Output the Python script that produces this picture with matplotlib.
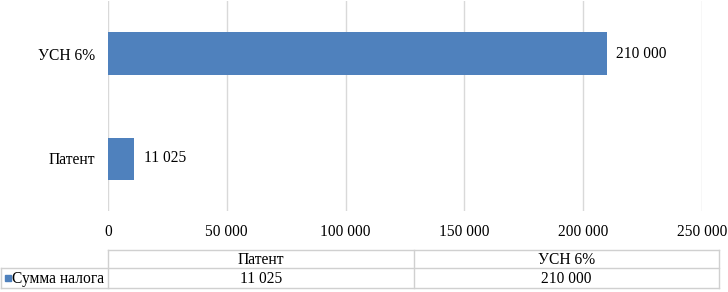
import matplotlib
matplotlib.use("Agg")
import matplotlib.pyplot as plt
from matplotlib.lines import Line2D
from matplotlib.patches import Rectangle
from matplotlib import font_manager

categories = ["Патент", "УСН 6%"]
values = [11025, 210000]
series_name = "Сумма налога"
xticks = [0, 50000, 100000, 150000, 200000, 250000]

def fmt(v):
    return f"{v:,}".replace(",", " ")

serif_names = [f.name for f in font_manager.fontManager.ttflist if 'Serif' in f.name]
fam = 'Liberation Serif' if 'Liberation Serif' in serif_names else ('DejaVu Serif')
plt.rcParams['font.family'] = 'serif'
plt.rcParams['font.serif'] = [fam, 'DejaVu Serif']
FS = 11.2

W, H = 728, 292
fig = plt.figure(figsize=(W/100, H/100), dpi=100)
color = "#4f81bd"
grid = "#d9d9d9"

x0, x1 = 108, 702
y_top, y_bot = 1, 211
ax = fig.add_axes([x0/W, 1 - y_bot/H, (x1-x0)/W, (y_bot-y_top)/H])
ypos = list(range(len(categories)))
ax.barh(ypos, values, height=0.4, color=color, zorder=3)
ax.set_xlim(0, 250000)
ax.set_ylim(-0.5, 1.5)
ax.set_yticks(ypos)
ax.set_yticklabels(categories, fontsize=FS)
ax.set_xticks(xticks)
ax.set_xticklabels([fmt(t) for t in xticks], fontsize=FS)
ax.tick_params(axis='both', length=0)
ax.tick_params(axis='x', pad=9)
ax.tick_params(axis='y', pad=9)
ax.grid(axis='x', color=grid, linewidth=1, zorder=0)
for s in ax.spines.values():
    s.set_visible(False)
for y, v in zip(ypos, values):
    ax.text(v + 250000*0.016, y, fmt(v), va='center', ha='left', fontsize=FS)

# data table
tax = fig.add_axes([0, 0, 1, 1])
tax.set_xlim(0, W)
tax.set_ylim(H, 0)
tax.axis('off')
tcol = "#d0d0d0"
t_top, t_mid, t_bot = 250, 268, 288
tx0, tx1 = 108, 719
ncat = len(categories)
col_edges = [tx0 + (tx1 - tx0) * i / ncat for i in range(ncat + 1)]
tax.add_line(Line2D([tx0, tx1], [t_top, t_top], color=tcol, lw=1))
tax.add_line(Line2D([1, tx1], [t_mid, t_mid], color=tcol, lw=1))
tax.add_line(Line2D([1, tx1], [t_bot, t_bot], color=tcol, lw=1))
tax.add_line(Line2D([1, 1], [t_mid, t_bot], color=tcol, lw=1))
for xe in col_edges:
    tax.add_line(Line2D([xe, xe], [t_top, t_bot], color=tcol, lw=1))
for i, (c, v) in enumerate(zip(categories, values)):
    cx = (col_edges[i] + col_edges[i+1]) / 2
    tax.text(cx, (t_top + t_mid)/2 + 1, c, ha='center', va='center', fontsize=FS)
    tax.text(cx, (t_mid + t_bot)/2 + 1, fmt(v), ha='center', va='center', fontsize=FS)
tax.add_patch(Rectangle((5, 275), 6, 6, color=color))
tax.text(12, (t_mid + t_bot)/2 + 1, series_name, ha='left', va='center', fontsize=FS)

fig.savefig("out.png", dpi=100)
